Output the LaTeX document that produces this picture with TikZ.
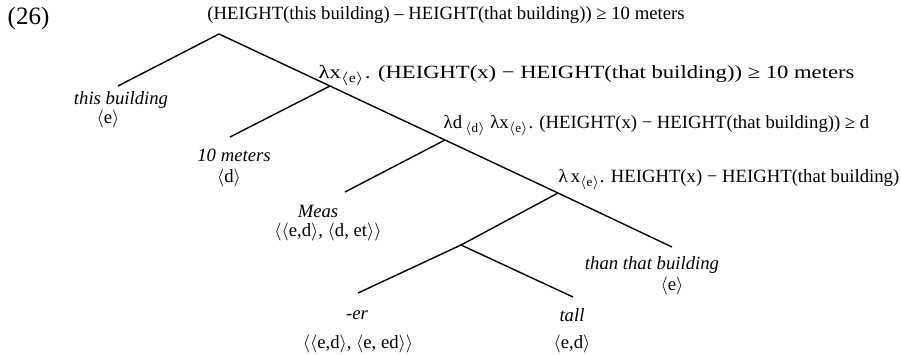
\documentclass[tikz,border=0pt]{standalone}
\usepackage{fontspec}
\usepackage{graphicx}
\setmainfont{Liberation Serif}
\newcommand{\tsub}[1]{\textsubscript{$\langle$#1$\rangle$}}
\newcommand{\ang}[1]{$\langle$#1$\rangle$}

\begin{document}
\begin{tikzpicture}[x=0.5pt,y=-0.5pt,line width=0.7pt,
  lbl/.style={inner sep=0pt,font=\fontsize{9.35}{11}\selectfont},
  word/.style={lbl,font=\fontsize{9.35}{11}\selectfont\itshape}]
  \useasboundingbox (0,0) rectangle (901,354);
  % branching points and leaf ends
  \coordinate (root) at (219,34);
  \coordinate (n1) at (330,86);
  \coordinate (n2) at (445,140);
  \coordinate (n3) at (558,193);
  \coordinate (n4) at (461,245);
  \coordinate (thisb) at (118,86);
  \coordinate (tenm) at (230,137);
  \coordinate (meas) at (345,192);
  \coordinate (than) at (672,247);
  \coordinate (er) at (358,293);
  \coordinate (tall) at (573,297);
  % branches
  \draw (thisb) -- (root) -- (n1) -- (n2) -- (n3) -- (than);
  \draw (n1) -- (tenm);
  \draw (n2) -- (meas);
  \draw (n3) -- (n4);
  \draw (er) -- (n4) -- (tall);
  % node labels
  \node[lbl,anchor=west,font=\fontsize{12.5}{14}\selectfont] (exnum) at (7,18) {(26)};
  \node[lbl] (toplbl) at (446,15) {(HEIGHT(this building) – HEIGHT(that building)) ≥ 10 meters};
  \node[lbl,anchor=west] (n1lbl) at (318,76) {\scalebox{1.21}[1]{λx\tsub{e}. (HEIGHT(x) − HEIGHT(that building)) ≥ 10 meters}};
  \node[lbl,anchor=west] (n2lbl) at (443,126) {λd\,\tsub{d} λx\tsub{e}. (HEIGHT(x) − HEIGHT(that building)) ≥ d};
  \node[lbl,anchor=west] (n3lbl) at (558,180) {λ\,x\tsub{e}. HEIGHT(x) − HEIGHT(that building)};
  % leaves
  \node[word] (thisbw) at (121,100) {this building};
  \node[lbl] (thisbt) at (108,119) {\ang{e}};
  \node[word] (tenmw) at (234,155) {10 meters};
  \node[lbl] (tenmt) at (229,178) {\ang{d}};
  \node[word] (measw) at (318,211) {Meas};
  \node[lbl] (meast) at (328,232) {\ang{\ang{e,d}, \ang{d, et}}};
  \node[word] (thanw) at (652,265) {than that building};
  \node[lbl] (thant) at (672,286) {\ang{e}};
  \node[word] (erw) at (357,315) {-er};
  \node[lbl] (ert) at (358,344) {\ang{\ang{e,d}, \ang{e, ed}}};
  \node[word] (tallw) at (572,315) {tall};
  \node[lbl] (tallt) at (572,344) {\ang{e,d}};
\end{tikzpicture}
\end{document}
